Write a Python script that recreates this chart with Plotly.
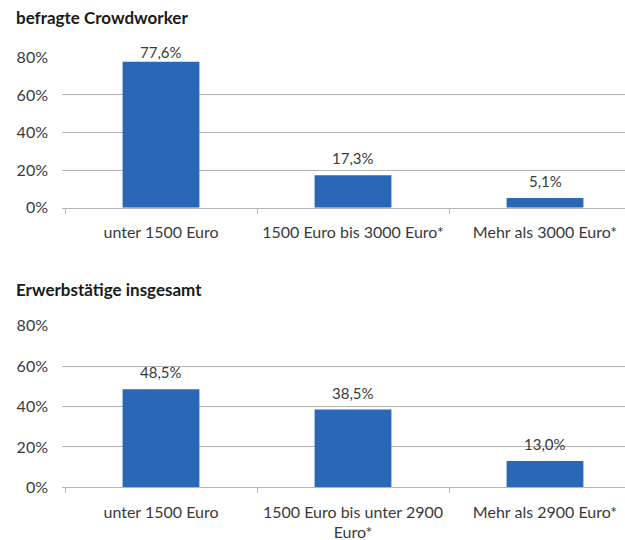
import plotly.graph_objects as go

# ---- data ----
titles = ["befragte Crowdworker", "Erwerbstätige insgesamt"]
cats_top = ["unter 1500 Euro", "1500 Euro bis 3000 Euro*", "Mehr als 3000 Euro*"]
vals_top = [77.6, 17.3, 5.1]
cats_bot = ["unter 1500 Euro", "1500 Euro bis unter 2900<br>Euro*", "Mehr als 2900 Euro*"]
vals_bot = [48.5, 38.5, 13.0]
y_ticks = [0, 20, 40, 60, 80]
y_ticklabels = ["0%", "20%", "40%", "60%", "80%"]

W, H = 625, 540
FONT = "Lato"
TXT = "#3a3a3a"
BAR = "#2a67b7"
GRID = "#b4b4b4"
YMAX = 80.4

def fy(px):
    return 1 - px / H

def fx(px):
    return px / W

def lbl(v):
    return f"{v:.1f}".replace(".", ",") + "%"

# panel geometry in pixels: (y of 0%, y of 80%)
panels = [(207.7, 57.3), (487.3, 325.7)]
CAT_W = 192
AX_LEFT = 62

fig = go.Figure()
fig.add_trace(go.Bar(x=cats_top, y=vals_top, width=0.4,
                     marker=dict(color=BAR, line=dict(width=0)),
                     xaxis="x", yaxis="y", showlegend=False, hoverinfo="skip"))
fig.add_trace(go.Bar(x=cats_bot, y=vals_bot, width=0.4,
                     marker=dict(color=BAR, line=dict(width=0)),
                     xaxis="x2", yaxis="y2", showlegend=False, hoverinfo="skip"))

annotations = []
for (cats, vals, xr, yr), (p0, p80) in zip(
        [(cats_top, vals_top, "x", "y"), (cats_bot, vals_bot, "x2", "y2")], panels):
    ppu = (p0 - p80) / 80.0
    for c, v in zip(cats, vals):
        bar_top = p0 - v * ppu
        # keep label baseline no higher than just below the top gridline (as Excel does)
        shift = min(6, bar_top - 5 - (p80 + 1))
        annotations.append(dict(text=lbl(v), x=c, y=v, xref=xr, yref=yr,
                                xanchor="center", yanchor="bottom", yshift=shift,
                                showarrow=False,
                                font=dict(family=FONT, size=15, color=TXT)))

x0 = -0.5 - 3 / CAT_W
x1 = x0 + (W - AX_LEFT) / CAT_W
xcommon = dict(type="category", range=[x0, x1], showgrid=False, zeroline=False,
               showline=True, linecolor=GRID, linewidth=1,
               ticks="outside", tickson="boundaries", ticklen=5, tickcolor=GRID,
               tickfont=dict(family=FONT, size=16, color=TXT), tickangle=0,
               automargin=False, ticklabelstandoff=10, domain=[fx(AX_LEFT), 1])
ycommon = dict(range=[0, YMAX], tickvals=y_ticks, ticktext=y_ticklabels,
               showgrid=True, gridcolor=GRID, gridwidth=1, zeroline=False,
               showline=False, ticks="", automargin=False,
               tickfont=dict(family=FONT, size=16, color=TXT),
               ticklabelstandoff=13)

annotations += [
    dict(text=f"<b>{titles[0]}</b>", x=fx(14), y=fy(18), xref="paper", yref="paper",
         xanchor="left", yanchor="middle", showarrow=False,
         font=dict(family=FONT, size=17, color="#1a1a1a")),
    dict(text=f"<b>{titles[1]}</b>", x=fx(14), y=fy(289), xref="paper", yref="paper",
         xanchor="left", yanchor="middle", showarrow=False,
         font=dict(family=FONT, size=17, color="#1a1a1a")),
]

def ydom(p0, p80):
    top = p0 - (p0 - p80) * YMAX / 80
    return [fy(p0), fy(top)]

fig.update_layout(
    width=W, height=H,
    margin=dict(l=0, r=0, t=0, b=0, autoexpand=False),
    paper_bgcolor="white", plot_bgcolor="white",
    xaxis=dict(xcommon, anchor="y", categoryorder="array", categoryarray=cats_top),
    yaxis=dict(ycommon, anchor="x", domain=ydom(*panels[0])),
    xaxis2=dict(xcommon, anchor="y2", categoryorder="array", categoryarray=cats_bot),
    yaxis2=dict(ycommon, anchor="x2", domain=ydom(*panels[1])),
    annotations=annotations,
)

fig.write_html("out.html", config={"displayModeBar": False},
               post_script="document.body.style.margin='0';document.body.style.padding='0';")
